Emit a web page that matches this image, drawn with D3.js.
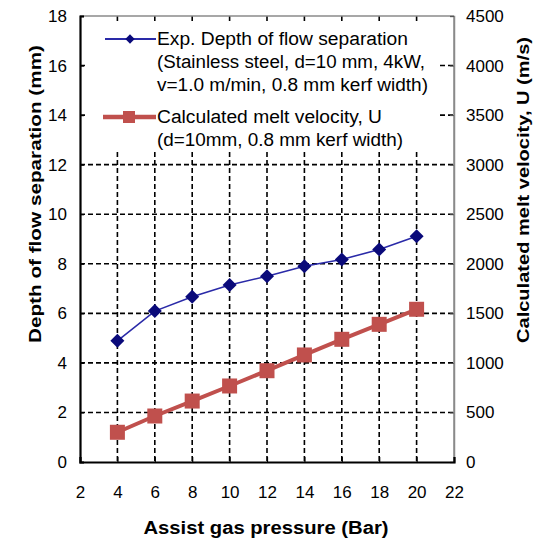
<!DOCTYPE html>
<html>
<head>
<meta charset="utf-8">
<script src="https://cdn.jsdelivr.net/npm/d3@7"></script>
<style>
  html, body { margin: 0; padding: 0; background: #fff; }
  svg text { font-family: "Liberation Sans", Arial, sans-serif; fill: #000; }
</style>
</head>
<body>
<div id="chart"></div>
<script>
const pressure = [4, 6, 8, 10, 12, 14, 16, 18, 20];
const depth = [4.89, 6.09, 6.67, 7.14, 7.5, 7.9, 8.17, 8.58, 9.11];
const velocity = [300, 464, 615, 767, 921, 1080, 1238, 1389, 1541];
const xTicks = [2, 4, 6, 8, 10, 12, 14, 16, 18, 20, 22];
const yLeftTicks = [0, 2, 4, 6, 8, 10, 12, 14, 16, 18];
const yRightTicks = [0, 500, 1000, 1500, 2000, 2500, 3000, 3500, 4000, 4500];
const legendLines1 = ["Exp. Depth of flow separation", "(Stainless steel, d=10 mm, 4kW,", "v=1.0 m/min, 0.8 mm kerf width)"];
const legendLines2 = ["Calculated melt velocity, U", "(d=10mm, 0.8 mm kerf width)"];

const W = 550, H = 540;
const L = 80, R = 454, T = 16, B = 462;
const svg = d3.select("#chart").append("svg").attr("width", W).attr("height", H);

const x = d3.scaleLinear().domain([2, 22]).range([L, R]);
const yL = d3.scaleLinear().domain([0, 18]).range([B, T]);
const yR = d3.scaleLinear().domain([0, 4500]).range([B, T]);

// gridlines
const grid = svg.append("g").attr("stroke", "#000").attr("stroke-width", 1.6).attr("stroke-dasharray", "5,3");
grid.selectAll("line.h").data(yLeftTicks.filter(d => d > 0 && d < 18)).join("line")
  .attr("x1", L).attr("x2", R).attr("y1", d => yL(d)).attr("y2", d => yL(d));
grid.selectAll("line.v").data(xTicks.filter(d => d > 2 && d < 22)).join("line")
  .attr("y1", T).attr("y2", B).attr("x1", d => x(d)).attr("x2", d => x(d));

// legend background covers grid
svg.append("rect").attr("x", 88).attr("y", 22).attr("width", 350).attr("height", 130).attr("fill", "#fff");

// frame
svg.append("line").attr("x1", L).attr("x2", R).attr("y1", T).attr("y2", T).attr("stroke", "#8a8a8a").attr("stroke-width", 1.5);
svg.append("line").attr("x1", R).attr("x2", R).attr("y1", T).attr("y2", B).attr("stroke", "#8a8a8a").attr("stroke-width", 1.5);

// axes
const axL = svg.append("g").attr("transform", `translate(${L},0)`)
  .call(d3.axisLeft(yL).tickValues(yLeftTicks).tickSize(-4).tickPadding(13).tickFormat(d3.format("d")));
const axR = svg.append("g").attr("transform", `translate(${R},0)`)
  .call(d3.axisRight(yR).tickValues(yRightTicks).tickSize(-4).tickPadding(15).tickFormat(d3.format("d")));
const axB = svg.append("g").attr("transform", `translate(0,${B})`)
  .call(d3.axisBottom(x).tickValues(xTicks).tickSize(-5).tickPadding(24).tickFormat(d3.format("d")));
[axL, axR, axB].forEach(a => {
  a.selectAll("text").attr("font-size", 17).attr("font-family", "Liberation Sans, Arial, sans-serif").attr("fill", "#000");
});
axL.select(".domain").attr("stroke", "#000").attr("stroke-width", 2.2);
axB.select(".domain").attr("stroke", "#000").attr("stroke-width", 2.2);
axR.select(".domain").attr("stroke", "#8a8a8a").attr("stroke-width", 1.5);
axR.selectAll(".tick line").attr("stroke", "#555");
axL.selectAll(".tick line").attr("stroke", "#000").attr("stroke-width", 1.2);
axB.selectAll(".tick line").attr("stroke", "#000").attr("stroke-width", 1.2);
axR.selectAll(".tick text").attr("x", 12).attr("text-anchor", "start");

// series: velocity (red)
const red = "#c0504d";
svg.append("path").datum(pressure.map((p, i) => [p, velocity[i]]))
  .attr("fill", "none").attr("stroke", red).attr("stroke-width", 4)
  .attr("d", d3.line().x(d => x(d[0])).y(d => yR(d[1])));
svg.append("g").selectAll("rect").data(pressure.map((p, i) => [p, velocity[i]])).join("rect")
  .attr("x", d => x(d[0]) - 7.5).attr("y", d => yR(d[1]) - 7.5).attr("width", 15).attr("height", 15).attr("fill", red);

// series: depth (blue)
const blueLine = "#2a2aa8", blueMark = "#0a0a7a";
svg.append("path").datum(pressure.map((p, i) => [p, depth[i]]))
  .attr("fill", "none").attr("stroke", blueLine).attr("stroke-width", 1.6)
  .attr("d", d3.line().x(d => x(d[0])).y(d => yL(d[1])));
const diamond = d3.symbol().type(d3.symbolDiamond2).size(125);
svg.append("g").selectAll("path").data(pressure.map((p, i) => [p, depth[i]])).join("path")
  .attr("transform", d => `translate(${x(d[0])},${yL(d[1])})`)
  .attr("d", diamond).attr("fill", blueMark);

// legend
const lg = svg.append("g");
lg.append("line").attr("x1", 105).attr("x2", 156).attr("y1", 39).attr("y2", 39).attr("stroke", blueLine).attr("stroke-width", 1.8);
lg.append("path").attr("transform", "translate(130,39)").attr("d", d3.symbol().type(d3.symbolDiamond2).size(55)).attr("fill", blueMark);
lg.append("line").attr("x1", 103).attr("x2", 156).attr("y1", 117).attr("y2", 117).attr("stroke", red).attr("stroke-width", 4.5);
lg.append("rect").attr("x", 123).attr("y", 111).attr("width", 12).attr("height", 12).attr("fill", red);
const lens1 = [251, 268, 271], lens2 = [225, 246];
legendLines1.forEach((t, i) => {
  lg.append("text").attr("x", 157).attr("y", 45 + i * 23).attr("font-size", 18)
    .attr("textLength", lens1[i]).attr("lengthAdjust", "spacingAndGlyphs").text(t);
});
legendLines2.forEach((t, i) => {
  lg.append("text").attr("x", 157).attr("y", 123 + i * 23).attr("font-size", 18)
    .attr("textLength", lens2[i]).attr("lengthAdjust", "spacingAndGlyphs").text(t);
});

// axis titles
svg.append("text").attr("transform", "translate(41,194) rotate(-90)").attr("text-anchor", "middle")
  .attr("font-size", 17).attr("font-weight", "bold").attr("textLength", 298).attr("lengthAdjust", "spacingAndGlyphs")
  .text("Depth of flow separation (mm)");
svg.append("text").attr("transform", "translate(529,190) rotate(-90)").attr("text-anchor", "middle")
  .attr("font-size", 17).attr("font-weight", "bold").attr("textLength", 306).attr("lengthAdjust", "spacingAndGlyphs")
  .text("Calculated melt velocity, U  (m/s)");
svg.append("text").attr("x", 266).attr("y", 534).attr("text-anchor", "middle")
  .attr("font-size", 18).attr("font-weight", "bold").attr("textLength", 245).attr("lengthAdjust", "spacingAndGlyphs")
  .text("Assist gas pressure (Bar)");
</script>
</body>
</html>
